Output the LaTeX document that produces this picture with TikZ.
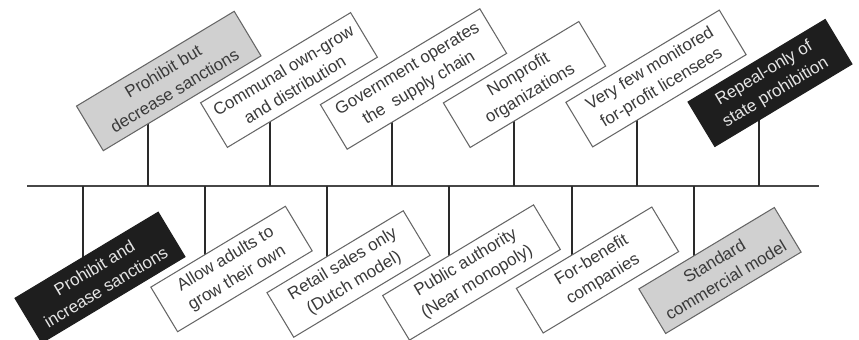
\documentclass[tikz,border=0pt]{standalone}
\usepackage{fontspec}
\setmainfont{Liberation Sans}
\usetikzlibrary{backgrounds}

\definecolor{boxgray}{HTML}{D0D0D0}
\definecolor{boxblack}{HTML}{1E1E1E}
\definecolor{linegray}{HTML}{2A2A2A}
\definecolor{textgray}{HTML}{3A3A3A}

\tikzset{
  option/.style={draw=black!60, line width=0.9pt, fill=white, text=textgray,
    rotate=31, align=center, minimum height=1.56cm, inner sep=2pt,
    font=\fontsize{14.5}{19}\selectfont},
  graybox/.style={option, fill=boxgray},
  blackbox/.style={option, fill=boxblack, draw=boxblack, text=white!90!black},
  tick/.style={draw=linegray, line width=2.4pt},
  axisline/.style={draw=black!72, line width=2.4pt},
}

\begin{document}
\begin{tikzpicture}[x=0.03cm, y=-0.03cm]
    \useasboundingbox (0,0) rectangle (859,340);

    % options above the axis
    \node[graybox, minimum width=5.52cm] (t1) at (168.75, 81) {Prohibit but\\decrease sanctions};
    \node[option, minimum width=5.25cm] (t2) at (289, 80) {Communal own-grow\\and distribution};
    \node[option, minimum width=5.58cm] (t3) at (413.5, 79) {Government operates\\the~ supply chain};
    \node[option, minimum width=4.74cm] (t4) at (524.5, 84.5) {Nonprofit\\organizations};
    \node[option, minimum width=5.37cm] (t5) at (656, 78.5) {Very few monitored\\for-profit licensees};
    \node[blackbox, minimum width=4.8cm] (t6) at (770, 83) {Repeal-only of\\state prohibition};

    % options below the axis
    \node[blackbox, minimum width=5.01cm] (b1) at (100, 277.5) {Prohibit and\\increase sanctions};
    \node[option, minimum width=4.71cm] (b2) at (231.5, 269) {Allow adults to\\grow their own};
    \node[option, minimum width=4.77cm] (b3) at (348.5, 274) {Retail sales only\\(Dutch model)};
    \node[option, minimum width=5.28cm] (b4) at (471.5, 272.5) {Public authority\\(Near monopoly)};
    \node[option, minimum width=4.74cm] (b5) at (597.5, 270) {For-benefit\\companies};
    \node[graybox, minimum width=4.74cm] (b6) at (720, 270.5) {Standard\\commercial model};

    % points on the axis
    \coordinate (start) at (27, 186);
    \coordinate (end) at (819, 186);
    \coordinate (a1) at (148, 186);
    \coordinate (a2) at (270, 186);
    \coordinate (a3) at (392, 186);
    \coordinate (a4) at (514, 186);
    \coordinate (a5) at (637, 186);
    \coordinate (a6) at (759, 186);
    \coordinate (c1) at (83, 186);
    \coordinate (c2) at (205, 186);
    \coordinate (c3) at (327, 186);
    \coordinate (c4) at (449, 186);
    \coordinate (c5) at (572, 186);
    \coordinate (c6) at (694, 186);

    \begin{scope}[on background layer]
        \draw[axisline] (start) -- (end);
        \foreach \i in {1,...,6} {
            \draw[tick] (a\i) -- (a\i |- t\i.center);
            \draw[tick] (c\i) -- (c\i |- b\i.center);
        }
    \end{scope}
\end{tikzpicture}
\end{document}
